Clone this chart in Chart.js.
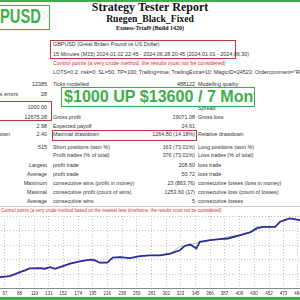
<!DOCTYPE html>
<html>
<head>
<meta charset="utf-8">
<script src="https://cdn.jsdelivr.net/npm/chart.js@4.4.1/dist/chart.umd.min.js"></script>
<style>
  html, body { margin: 0; padding: 0; }
  body { width: 300px; height: 300px; overflow: hidden; position: relative; background: #fff;
         font-family: "Liberation Sans", Arial, sans-serif; color: #333; }
  .t { position: absolute; font-size: 5.4px; line-height: 6px; white-space: nowrap; }
  .r { text-align: right; }
  .red { color: #e02a2a; }
  .box { position: absolute; border: 1.5px solid #b83a3a; box-sizing: border-box; }
  .gbox { position: absolute; border: 1.5px solid #3fae4a; box-sizing: border-box; background: #fff; overflow: hidden; }
  #topbar { position: absolute; left: 0; top: 0; width: 300px; height: 1.5px; background: #3fae4a; }
  #botbar { position: absolute; left: 0; top: 297px; width: 300px; height: 3px; background: #3fae4a; }
  .serif { position: absolute; left: 0; width: 300px; text-align: center; font-family: "Liberation Serif", "Times New Roman", serif;
           font-weight: bold; color: #111; white-space: nowrap; }
  #chartWrap { position: absolute; left: -20px; top: 213px; width: 340px; height: 85px; }
</style>
</head>
<body>
<div id="topbar"></div>

<div class="gbox" style="left:-30px; top:5px; width:80px; height:25px;">
  <div style="position:absolute; right:8px; top:-2px; font-size:21px; font-weight:bold; color:#3fae4a; transform:scaleX(0.7); transform-origin:right center; white-space:nowrap;">GBPUSD</div>
</div>

<div class="serif" style="top:0px; font-size:12px; line-height:15px;">Strategy Tester Report</div>
<div class="serif" style="top:13px; font-size:9.7px; line-height:12px;">Ruegen_Black_Fixed</div>
<div class="serif" style="top:24.5px; font-size:6px; line-height:7px;">Exness-Trial9 (Build 1420)</div>

<div class="box" style="left:50px; top:40px; width:186px; height:18.5px;"></div>
<div class="t" style="left:53px; top:40.5px;">GBPUSD (Great Britain Pound vs US Dollar)</div>
<div class="t" style="left:53px; top:50.5px;">15 Minutes (M15) 2024.01.02 22:45 - 2024.06.28 20:45 (2024.01.01 - 2024.06.30)</div>
<div class="t red" style="left:53px; top:60.3px;">Control points (a very crude method, the results must not be considered)</div>
<div class="t" style="left:53px; top:68.7px;">LOTS=0.2; risk=0; SL=50; TP=100; Trailing=true; TrailingExtra=10; MagicID=24523; Ordercomment="Ruegen Black Fixed"</div>

<!-- summary rows -->
<div class="t r" style="right:253px; top:81.3px;">12385</div>
<div class="t" style="left:53px; top:81.3px;">Ticks modelled</div>
<div class="t r" style="right:105px; top:81.3px;">488122</div>
<div class="t" style="left:198px; top:81.3px;">Modelling quality</div>

<div class="t r" style="right:282px; top:91.3px;">Mismatched charts errors</div>
<div class="t r" style="right:253px; top:91.3px;">28</div>

<div class="box" style="left:-3px; top:101px; width:55px; height:19.5px;"></div>
<div class="t r" style="right:253px; top:104.3px;">1000.00</div>
<div class="t" style="left:198px; top:104.7px;">Spread</div>

<div class="t r" style="right:253px; top:113.7px;">12675.28</div>
<div class="t" style="left:53px; top:113.7px;">Gross profit</div>
<div class="t r" style="right:105px; top:113.7px;">19071.08</div>
<div class="t" style="left:198px; top:113.7px;">Gross loss</div>

<div class="t r" style="right:253px; top:122.7px;">2.98</div>
<div class="t" style="left:53px; top:122.7px;">Expected payoff</div>
<div class="t r" style="right:105px; top:122.7px;">24.61</div>

<div class="t r" style="right:290px; top:131.3px;">Absolute drawdown</div>
<div class="t r" style="right:253px; top:131.3px;">2.40</div>
<div class="box" style="left:51.5px; top:130px; width:145px; height:10.5px;"></div>
<div class="t" style="left:53px; top:131.3px;">Maximal drawdown</div>
<div class="t r" style="right:105px; top:131.3px;">1264.80 (14.18%)</div>
<div class="t" style="left:198px; top:131.3px;">Relative drawdown</div>

<div class="t r" style="right:253px; top:143.7px;">515</div>
<div class="t" style="left:53px; top:143.7px;">Short positions (won %)</div>
<div class="t r" style="right:105px; top:143.7px;">163 (73.01%)</div>
<div class="t" style="left:198px; top:143.7px;">Long positions (won %)</div>

<div class="t" style="left:53px; top:152px;">Profit trades (% of total)</div>
<div class="t r" style="right:105px; top:152px;">376 (73.01%)</div>
<div class="t" style="left:198px; top:152px;">Loss trades (% of total)</div>

<div class="t r" style="right:253px; top:162px;">Largest</div>
<div class="t" style="left:53px; top:162px;">profit trade</div>
<div class="t r" style="right:105px; top:162px;">208.60</div>
<div class="t" style="left:198px; top:162px;">loss trade</div>

<div class="t r" style="right:253px; top:171px;">Average</div>
<div class="t" style="left:53px; top:171px;">profit trade</div>
<div class="t r" style="right:105px; top:171px;">50.72</div>
<div class="t" style="left:198px; top:171px;">loss trade</div>

<div class="t r" style="right:253px; top:180.3px;">Maximum</div>
<div class="t" style="left:53px; top:180.3px;">consecutive wins (profit in money)</div>
<div class="t r" style="right:105px; top:180.3px;">23 (863.76)</div>
<div class="t" style="left:198px; top:180.3px;">consecutive losses (loss in money)</div>

<div class="t r" style="right:253px; top:189.3px;">Maximal</div>
<div class="t" style="left:53px; top:189.3px;">consecutive profit (count of wins)</div>
<div class="t r" style="right:105px; top:189.3px;">1253.60 (17)</div>
<div class="t" style="left:198px; top:189.3px;">consecutive loss (count of losses)</div>

<div class="t r" style="right:253px; top:198px;">Average</div>
<div class="t" style="left:53px; top:198px;">consecutive wins</div>
<div class="t r" style="right:105px; top:198px;">5</div>
<div class="t" style="left:198px; top:198px;">consecutive losses</div>

<div style="position:absolute; left:0; top:206px; width:300px; height:1px; background:#d8c8c8;"></div>
<div class="t red" style="left:1px; top:208.3px; font-size:4.55px;">Control points (a very crude method based on the nearest less timeframe, the results must not be considered)</div>

<div class="gbox" style="left:61px; top:87px; width:194px; height:19.5px;">
  <div style="position:absolute; left:2px; top:-1px; font-size:16.1px; line-height:19px; font-weight:bold; color:#3fae4a; white-space:nowrap;">$1000 UP $13600 / 7 Months</div>
</div>

<div id="chartWrap"><canvas id="balanceChart" width="340" height="85"></canvas></div>
<div id="botbar"></div>

<script>
// trade number vs account balance
const tradeNo = [0, 60, 74, 89, 96, 103, 118, 125, 133, 140, 147, 162, 176, 191, 198, 205, 216, 224, 235, 249,
                 264, 278, 293, 308, 322, 329, 337, 346, 351, 366, 380, 392, 410, 424, 434, 443, 461, 468, 482, 497, 515];
const balance = [1000, 2354, 2562, 3396, 3750, 4167, 4229, 4104, 4437, 4104, 4437, 5146, 5625, 5979, 5833, 5354, 5354, 6396, 6521, 6312,
                 6729, 6875, 6875, 7229, 7917, 8812, 9104, 8271, 9646, 10000, 10208, 10354, 11042, 11604, 12437, 12771, 12771, 13812, 14521, 14167, 14400];
const equity = [1000, 2354, 2562, 3396, 3750, 4167, 4229, 4104, 4437, 4104, 4437, 5146, 5625, 5979, 6050, 5354, 5354, 6396, 6521, 6312,
                6729, 6875, 6875, 7229, 8700, 8812, 9104, 9350, 9646, 10000, 10208, 10700, 11042, 11604, 12800, 12771, 12771, 13812, 14521, 14167, 14400];
const xTicks = [67, 88, 110, 131, 152, 174, 195, 216, 238, 259, 281, 302, 323, 345, 366, 387, 409, 430, 452, 473, 494];

const ctx = document.getElementById('balanceChart').getContext('2d');

new Chart(ctx, {
    type: 'line',
    data: {
        datasets: [{
            label: 'Balance',
            data: tradeNo.map((t, i) => ({ x: t, y: balance[i] })),
            borderColor: '#2b2b9e',
            borderWidth: 1.8,
            pointRadius: 0,
            tension: 0
        }, {
            label: 'Equity',
            data: tradeNo.map((t, i) => ({ x: t, y: equity[i] })),
            borderColor: '#8fd08f',
            borderWidth: 1,
            pointRadius: 0,
            tension: 0
        }]
    },
    options: {
        responsive: false,
        devicePixelRatio: 1,
        animation: false,
        layout: { padding: { top: 3, left: 0, right: 0, bottom: 0 } },
        plugins: {
            legend: { display: false },
            tooltip: { enabled: false }
        },
        scales: {
            x: {
                type: 'linear',
                min: 30.6,
                max: 526.2,
                afterBuildTicks: scale => { scale.ticks = xTicks.map(v => ({ value: v })); },
                ticks: {
                    autoSkip: false,
                    maxRotation: 0,
                    padding: 2,
                    color: '#333',
                    font: { size: 4.5, family: 'Liberation Sans' }
                },
                grid: { color: '#c4c4c4', drawTicks: false, lineWidth: 1 },
                border: { display: true, color: '#8a8a8a', width: 1, dash: [1, 2] }
            },
            y: {
                min: 0,
                max: 15000,
                ticks: { display: false, stepSize: 3000 },
                grid: { color: '#c4c4c4', drawTicks: false, lineWidth: 1 },
                border: { display: false, dash: [1, 2] }
            }
        }
    }
});
</script>
</body>
</html>
